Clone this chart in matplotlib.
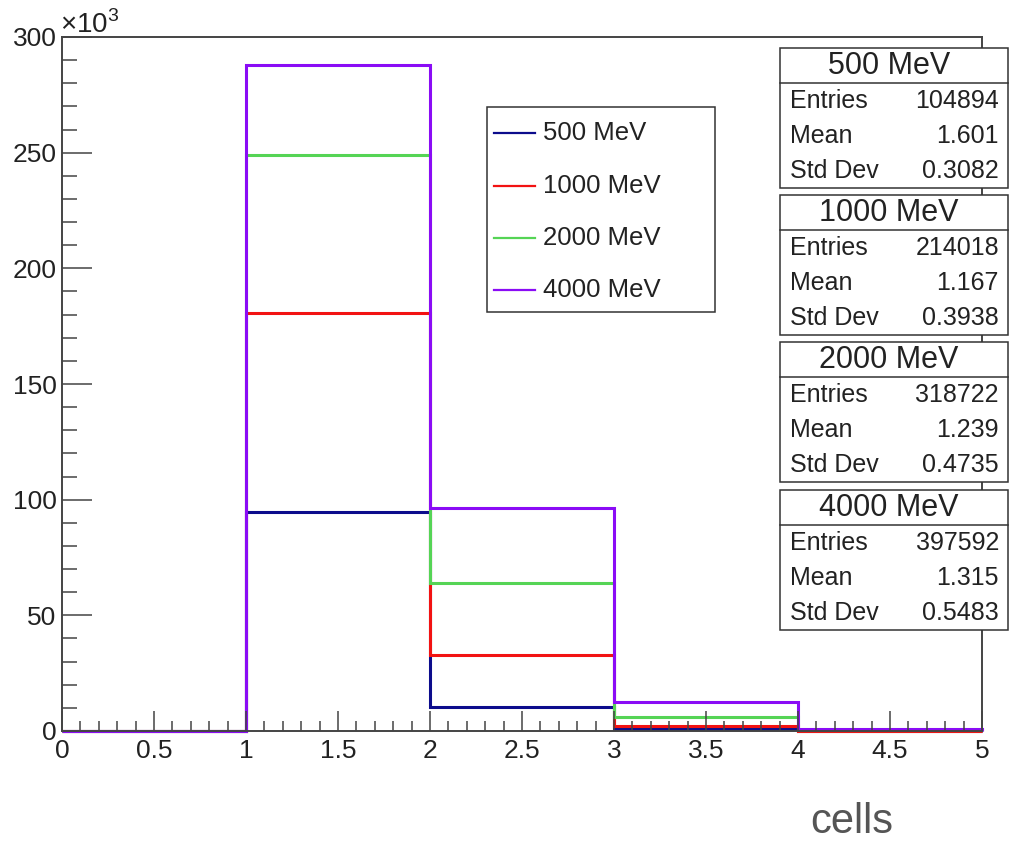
import matplotlib
matplotlib.use("Agg")
import matplotlib.pyplot as plt
from matplotlib.patches import Rectangle
from matplotlib.lines import Line2D
from matplotlib.ticker import MultipleLocator, FuncFormatter

plt.rcParams['font.family'] = ['Liberation Sans', 'DejaVu Sans']
plt.rcParams['mathtext.fontset'] = 'custom'
plt.rcParams['mathtext.rm'] = 'Liberation Sans'

# bin edges (number of cells) and counts per beam energy
edges = [0, 1, 2, 3, 4, 5]
labels = ['500 MeV', '1000 MeV', '2000 MeV', '4000 MeV']
counts_500 = [0, 94800, 10200, 900, 50]
counts_1000 = [0, 180700, 32900, 2100, 200]
counts_2000 = [0, 249000, 63900, 6200, 500]
counts_4000 = [0, 288000, 96300, 12700, 900]
colors = ['#0c0c8c', '#f21212', '#55d455', '#8a0cf5']

# stat box contents
entries = [104894, 214018, 318722, 397592]
means = [1.601, 1.167, 1.239, 1.315]
std_devs = [0.3082, 0.3938, 0.4735, 0.5483]

W, H = 1014, 843
frame_col = '#444444'


def fx(x):
    return x / W


def fy(y):
    return 1 - y / H


fig = plt.figure(figsize=(W / 100, H / 100), dpi=100)
ax = fig.add_axes([fx(62), fy(731), 920 / W, 694 / H])

all_counts = [counts_500, counts_1000, counts_2000, counts_4000]
for counts, col in zip(all_counts, colors):
    ax.stairs(counts, edges, baseline=0, color=col, lw=2.2, clip_on=False)

ax.set_xlim(0, 5)
ax.set_ylim(0, 300000)
ax.xaxis.set_major_locator(MultipleLocator(0.5))
ax.xaxis.set_minor_locator(MultipleLocator(0.1))
ax.yaxis.set_major_locator(MultipleLocator(50000))
ax.yaxis.set_minor_locator(MultipleLocator(10000))
ax.xaxis.set_major_formatter(FuncFormatter(lambda v, p: f"{v:g}"))
ax.yaxis.set_major_formatter(FuncFormatter(lambda v, p: f"{v / 1000:g}"))

ax.tick_params(which='both', direction='in', top=False, right=False,
               color=frame_col, width=1.1, labelcolor='#222222',
               labelsize=19)
ax.tick_params(axis='x', which='major', length=14.4, pad=6)
ax.tick_params(axis='x', which='minor', length=7.2)
ax.tick_params(axis='y', which='major', length=21.6, pad=4)
ax.tick_params(axis='y', which='minor', length=10.8)
for sp in ax.spines.values():
    sp.set_color(frame_col)
    sp.set_linewidth(1.4)

fig.text(fx(60), fy(33), r'$\times10^{3}$', ha='left', va='baseline',
         fontsize=20, color='#222222')
fig.text(fx(893), fy(833), 'cells', ha='right', va='baseline',
         fontsize=30, color='#555555')

# legend box
fig.patches.append(Rectangle((fx(487), fy(312)), 228 / W, 205 / H,
                             transform=fig.transFigure, facecolor='white',
                             edgecolor='#333333', lw=1.1, zorder=5))
for lab, col, yc in zip(labels, colors, [133, 186, 238, 290]):
    fig.lines.append(Line2D([fx(494), fx(535)], [fy(yc), fy(yc)],
                            transform=fig.transFigure, color=col, lw=1.6,
                            zorder=6))
    fig.text(fx(543), fy(yc), lab, ha='left', va='center', fontsize=18.5,
             color='#222222', zorder=6)

# stat boxes
for lab, n, m, s, top in zip(labels, entries, means, std_devs,
                             [48, 195, 342, 490]):
    fig.patches.append(Rectangle((fx(780), fy(top + 140)), 228 / W, 140 / H,
                                 transform=fig.transFigure, facecolor='white',
                                 edgecolor='#333333', lw=1.1, zorder=5))
    fig.lines.append(Line2D([fx(780), fx(1008)], [fy(top + 35), fy(top + 35)],
                            transform=fig.transFigure, color='#333333',
                            lw=1.1, zorder=6))
    fig.text(fx(889), fy(top + 18), lab, ha='center', va='center',
             fontsize=22, color='#222222', zorder=6)
    rows = [('Entries', f"{n}"), ('Mean', f"{m:.4g}"), ('Std Dev', f"{s:.4g}")]
    for (name, val), dy in zip(rows, [53, 88, 123]):
        fig.text(fx(790), fy(top + dy), name, ha='left', va='center',
                 fontsize=18, color='#222222', zorder=6)
        fig.text(fx(999), fy(top + dy), val, ha='right', va='center',
                 fontsize=18, color='#222222', zorder=6)

fig.savefig('out.png', dpi=100, facecolor='white')
